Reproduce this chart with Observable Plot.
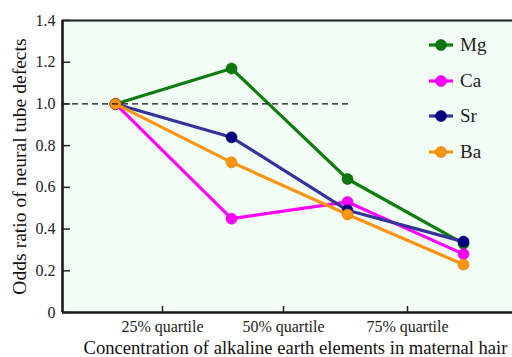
<!DOCTYPE html>
<html>
<head>
<meta charset="utf-8">
<script src="https://cdn.jsdelivr.net/npm/d3@7"></script>
<script src="https://cdn.jsdelivr.net/npm/@observablehq/plot@0.6"></script>
<style>
  html, body { margin: 0; padding: 0; background: #fff; }
  #wrap { position: relative; width: 512px; height: 357px; overflow: hidden; font-family: 'Liberation Serif', 'Times New Roman', serif; }
  #legend { position: absolute; left: 428px; top: 27px; }
  .item { display: flex; align-items: center; height: 35.7px; font-size: 19px; color: #222; }
  .item svg { margin-right: 6px; }
  svg text { font-family: 'Liberation Serif', 'Times New Roman', serif; }
</style>
</head>
<body>
<div id="wrap"><div id="legend"></div></div>
<script>
// ---- data ----
const seriesNames = ["Mg", "Ca", "Sr", "Ba"];
const levels = [0, 1, 2, 3];
const mg = [1.0, 1.17, 0.64, 0.33];
const ca = [1.0, 0.45, 0.53, 0.28];
const sr = [1.0, 0.84, 0.49, 0.34];
const ba = [1.0, 0.72, 0.47, 0.23];
const xTickLabels = ["25% quartile", "50% quartile", "75% quartile"];
const xTickValues = [0.405, 1.448, 2.517];
const yTicks = [0, 0.2, 0.4, 0.6, 0.8, 1.0, 1.2, 1.4];
const refValue = 1.0;
const refEnd = 2.03;

const lineColors = {Mg: "#0f7d0f", Ca: "#ff00ff", Sr: "#33339a", Ba: "#fb9410"};
const dotColors  = {Mg: "#0a780a", Ca: "#ff00ff", Sr: "#000080", Ba: "#fb9410"};
const dotStroke  = {Mg: "#086008", Ca: "#d000d0", Sr: "#000060", Ba: "#d07a00"};

const valuesBy = {Mg: mg, Ca: ca, Sr: sr, Ba: ba};
const data = seriesNames.flatMap(s => levels.map((l, i) => ({series: s, level: l, value: valuesBy[s][i]})));

const xDomain = [-0.457, 3.422];
const font = "'Liberation Serif', 'Times New Roman', serif";

const marks = [
  Plot.frame({fill: "#f2fdf5", stroke: null}),
];
for (const s of seriesNames) {
  const d = data.filter(r => r.series === s);
  marks.push(Plot.line(d, {x: "level", y: "value", stroke: lineColors[s], strokeWidth: 3.2}));
  marks.push(Plot.dot(d, {x: "level", y: "value", r: 5.5, fill: dotColors[s], stroke: dotStroke[s], strokeWidth: 0.6}));
}
marks.push(
  Plot.ruleY([refValue], {x1: xDomain[0], x2: refEnd, stroke: "#111", strokeWidth: 1.2, strokeDasharray: "6,4"}),
  Plot.ruleY([0], {stroke: "#1a1a1a", strokeWidth: 2.6}),
  Plot.ruleY([1.4], {stroke: "#1a1a1a", strokeWidth: 2}),
  Plot.ruleX([xDomain[0]], {stroke: "#1a1a1a", strokeWidth: 2.6}),
  Plot.axisY({ticks: yTicks, tickSize: -8, tickPadding: 15, tickFormat: d => d === 0 ? "0" : d.toFixed(1), fontSize: 16, label: null, stroke: "#222", strokeWidth: 1.5}),
  Plot.axisX({ticks: xTickValues, tickSize: -6, tickPadding: 14, tickFormat: (d, i) => xTickLabels[i], fontSize: 16, label: null, stroke: "#222", strokeWidth: 1.5}),
  Plot.text(["Concentration of alkaline earth elements in maternal hair"], {frameAnchor: "bottom", textAnchor: "middle", dx: 8, dy: 41, fontSize: 18.6, fill: "#111"}),
  Plot.text(["Odds ratio of neural tube defects"], {frameAnchor: "left", textAnchor: "middle", dx: -43, dy: 0, rotate: -90, fontSize: 19.6, fill: "#111"})
);

const chart = Plot.plot({
  width: 512,
  height: 357,
  marginLeft: 62,
  marginRight: 0,
  marginTop: 20,
  marginBottom: 45,
  x: {domain: xDomain},
  y: {domain: [0, 1.4]},
  style: {fontFamily: font, color: "#222", background: "#fff", overflow: "visible"},
  marks
});
document.getElementById("wrap").prepend(chart);

const legend = document.getElementById("legend");
for (const s of seriesNames) {
  const item = document.createElement("div");
  item.className = "item";
  item.innerHTML = `<svg width="26" height="14"><line x1="1" x2="25" y1="7" y2="7" stroke="${lineColors[s]}" stroke-width="3.2"/><circle cx="13" cy="7" r="5.5" fill="${dotColors[s]}" stroke="${dotStroke[s]}" stroke-width="0.6"/></svg><span>${s}</span>`;
  legend.appendChild(item);
}
</script>
</body>
</html>
